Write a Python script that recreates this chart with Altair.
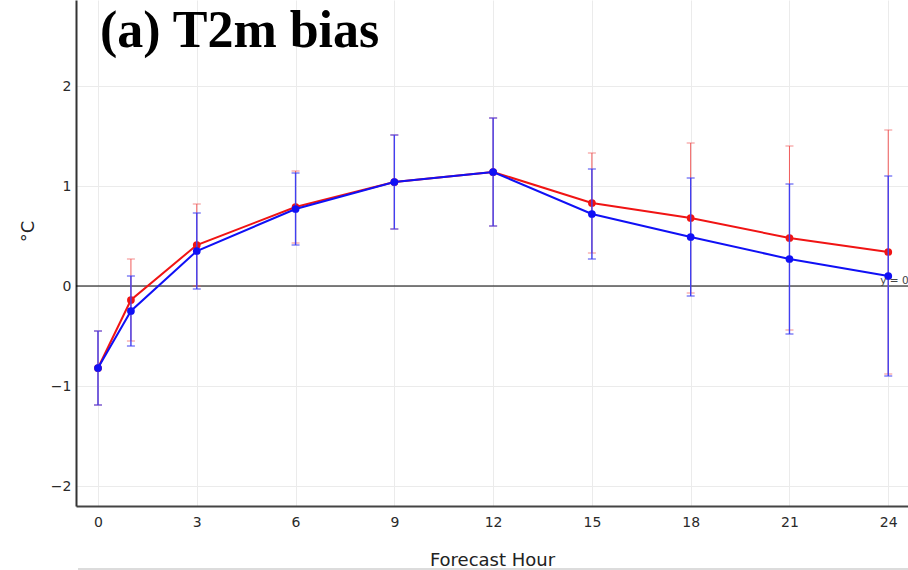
import altair as alt
import pandas as pd

hours = [0, 1, 3, 6, 9, 12, 15, 18, 21, 24]
red_mean = [-0.82, -0.14, 0.41, 0.79, 1.04, 1.14, 0.83, 0.68, 0.48, 0.34]
red_err = [0.37, 0.41, 0.41, 0.36, 0.47, 0.54, 0.50, 0.75, 0.92, 1.22]
blue_mean = [-0.82, -0.25, 0.35, 0.77, 1.04, 1.14, 0.72, 0.49, 0.27, 0.10]
blue_err = [0.37, 0.35, 0.38, 0.36, 0.47, 0.54, 0.45, 0.59, 0.75, 1.00]
x_ticks = [0, 3, 6, 9, 12, 15, 18, 21, 24]
y_ticks = [-2, -1, 0, 1, 2]
title_text = "(a) T2m bias"
x_title = "Forecast Hour"
y_title = "°C"
zero_label = "y = 0"

rows = []
for name, means, errs in (("red", red_mean, red_err), ("blue", blue_mean, blue_err)):
    for h, m, e in zip(hours, means, errs):
        rows.append({"hour": h, "mean": m, "lo": m - e, "hi": m + e, "series": name})
df = pd.DataFrame(rows)

xs = alt.Scale(domain=[-0.668, 24.6], nice=False, zero=False)
ys = alt.Scale(domain=[-2.2, 2.86], nice=False, zero=False)

x_axis = alt.Axis(values=x_ticks, title=x_title, grid=True, ticks=False, tickSize=0,
                  labelPadding=9, labelFontSize=14, labelFont="DejaVu Sans", labelColor="#2a2a2a",
                  titleFont="DejaVu Sans", titleFontSize=18, titleFontWeight="normal",
                  titleColor="#222", titleY=59, titleBaseline="alphabetic",
                  domainColor="#444", domainWidth=2, gridColor="#ebebeb", format="d")
y_axis = alt.Axis(values=y_ticks, title=y_title, grid=True, ticks=False, tickSize=0,
                  labelPadding=5, labelFontSize=14, labelFont="DejaVu Sans", labelColor="#2a2a2a",
                  titleFont="DejaVu Sans", titleFontSize=18, titleFontWeight="normal",
                  titleColor="#222", titleX=-43, titleY=231, titleAngle=-90,
                  titleBaseline="alphabetic", titleAlign="center",
                  domainColor="#333", domainWidth=2, gridColor="#ebebeb")

X = alt.X("hour:Q", scale=xs, axis=x_axis)
base = alt.Chart(df)

zero_rule = alt.Chart(pd.DataFrame({"z": [0]})).mark_rule(color="black", strokeWidth=1).encode(
    y=alt.Y("z:Q", scale=ys, axis=y_axis)
)

layers = [zero_rule]
colors = {"red": "#f01414", "blue": "#1010f5"}
err_colors = {"red": "#f05a5a", "blue": "#4040f2"}
err_widths = {"red": 1.0, "blue": 1.4}
for name in ("red", "blue"):
    c = colors[name]
    ec = err_colors[name]
    ew = err_widths[name]
    sub = base.transform_filter(alt.datum.series == name)
    bars = sub.mark_rule(color=ec, strokeWidth=ew).encode(
        x=X, y=alt.Y("lo:Q", scale=ys, axis=y_axis), y2="hi:Q")
    cap_lo = sub.mark_tick(color=ec, orient="horizontal", size=8, thickness=ew).encode(
        x=X, y=alt.Y("lo:Q", scale=ys, axis=y_axis))
    cap_hi = sub.mark_tick(color=ec, orient="horizontal", size=8, thickness=ew).encode(
        x=X, y=alt.Y("hi:Q", scale=ys, axis=y_axis))
    line = sub.mark_line(color=c, strokeWidth=2).encode(
        x=X, y=alt.Y("mean:Q", scale=ys, axis=y_axis))
    pts = sub.mark_point(color=c, filled=True, size=60, opacity=1).encode(
        x=X, y=alt.Y("mean:Q", scale=ys, axis=y_axis))
    layers += [bars, cap_lo, cap_hi, line, pts]

one = pd.DataFrame({"a": [0]})
zero_txt = alt.Chart(pd.DataFrame({"h": [24], "v": [0]})).mark_text(
    align="left", baseline="alphabetic", dx=-8, dy=-2, fontSize=10.5,
    font="DejaVu Sans", color="#444").encode(
    x=alt.X("h:Q", scale=xs, axis=x_axis), y=alt.Y("v:Q", scale=ys, axis=y_axis),
    text=alt.value(zero_label))

title_mark = alt.Chart(one).mark_text(
    align="left", baseline="alphabetic", fontSize=52, font="Liberation Serif",
    fontWeight="bold", color="black").encode(
    x=alt.value(24), y=alt.value(47), text=alt.value(title_text))

bottom_line = alt.Chart(one).mark_rule(color="#d0d0d0", strokeWidth=1.5).encode(
    x=alt.value(2), x2=alt.value(832), y=alt.value(569))

layers += [zero_txt, title_mark, bottom_line]

chart = alt.layer(*layers).properties(
    width=832, height=506,
    autosize=alt.AutoSizeParams(type="none"),
    padding={"left": 76, "top": 0, "right": 0, "bottom": 64},
    background="white",
).configure_view(stroke=None)

chart.save("out.html", embed_options={"renderer": "svg", "actions": False})
